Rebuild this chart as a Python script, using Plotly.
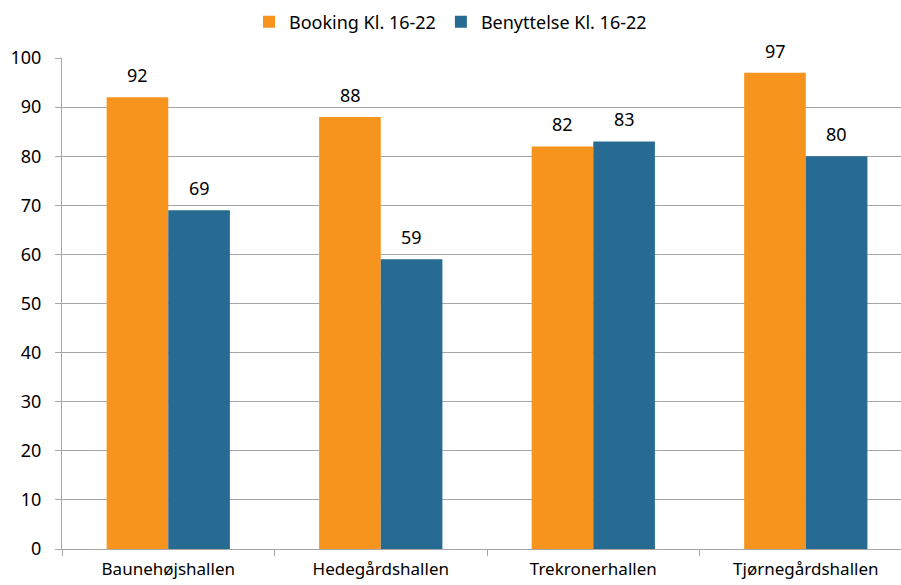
import plotly.graph_objects as go

categories = ["Baunehøjshallen", "Hedegårdshallen", "Trekronerhallen", "Tjørnegårdshallen"]
booking = [92, 88, 82, 97]
benyttelse = [69, 59, 83, 80]
series_names = ["Booking Kl. 16-22", "Benyttelse Kl. 16-22"]
y_ticks = [0, 10, 20, 30, 40, 50, 60, 70, 80, 90, 100]

FONT = "Noto Sans"
FS = 18
orange = "#F7941E"
blue = "#276A92"
grid = "#A6A6A6"

fig = go.Figure()
for name, vals, col in [(series_names[0], booking, orange), (series_names[1], benyttelse, blue)]:
    fig.add_trace(go.Bar(
        x=categories, y=vals, name=name, marker=dict(color=col, line=dict(width=0)),
        cliponaxis=False,
    ))

annotations = []
for vals, shift in [(booking, -30.75), (benyttelse, 30.75)]:
    for c, v in zip(categories, vals):
        annotations.append(dict(
            x=c, y=v, xref="x", yref="y", text=str(v), showarrow=False,
            xshift=shift, yshift=8, yanchor="bottom",
            font=dict(family=FONT, size=FS, color="#000000"),
        ))

fig.update_layout(
    width=901, height=585,
    margin=dict(l=62, r=0, t=58, b=36, autoexpand=False),
    paper_bgcolor="white", plot_bgcolor="white",
    barmode="group", bargap=0.42, bargroupgap=0,
    font=dict(family=FONT, size=FS, color="#000000"),
    legend=dict(orientation="h", x=0.5, xanchor="center", xref="container",
                y=1 - 22 / 585, yanchor="middle",
                yref="container", font=dict(family=FONT, size=FS), traceorder="normal"),
    annotations=annotations,
)
fig.update_xaxes(
    range=[-0.5, 3.448], showgrid=False, showline=True, linecolor=grid, linewidth=1,
    ticks="outside", tickson="boundaries", ticklen=6, tickcolor=grid,
    tickfont=dict(family=FONT, size=17), fixedrange=True, automargin=False,
    ticklabelstandoff=5,
)
fig.update_yaxes(
    range=[0, 100], tickvals=y_ticks, showgrid=True, gridcolor=grid, gridwidth=1,
    showline=True, linecolor=grid, linewidth=1, ticks="outside", ticklen=6, tickcolor=grid,
    tickfont=dict(family=FONT, size=FS), zeroline=False, ticklabelstandoff=10, automargin=False,
    fixedrange=True,
)
fig.write_html("out.html", config={"displayModeBar": False})

with open("out.html", "r", encoding="utf-8") as f:
    html = f.read()
html = html.replace("<head>", "<head><style>html,body{margin:0;padding:0;overflow:hidden;}</style>", 1)
with open("out.html", "w", encoding="utf-8") as f:
    f.write(html)
